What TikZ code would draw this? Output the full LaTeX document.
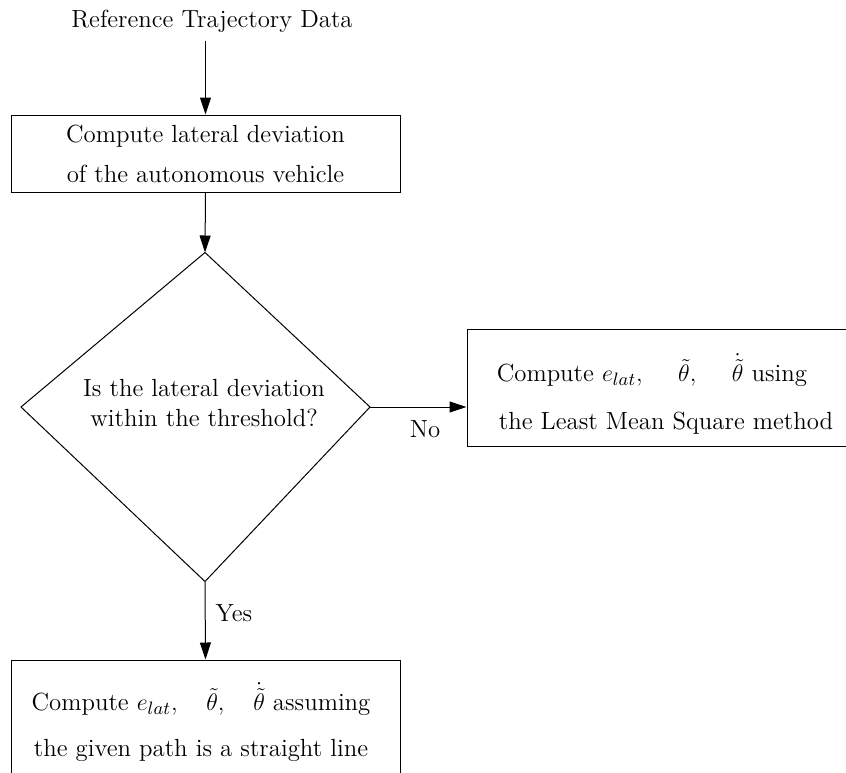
\documentclass[tikz,border=0pt]{standalone}
\usetikzlibrary{arrows.meta}
\begin{document}
\begin{tikzpicture}[x=0.5pt,y=-0.5pt,
  every node/.style={font=\fontsize{12.4}{14.4}\selectfont},
  box/.style={draw,line width=0.5pt,rectangle,inner sep=0pt,align=center},
  conn/.style={draw,line width=0.5pt,-{Triangle[length=8.5pt,width=5.5pt]}},
  lbl/.style={inner sep=0pt}]
\useasboundingbox (0,0) rectangle (846,772);
\clip (0,0) rectangle (846,772);
\node[lbl] (title) at (212,21) {Reference Trajectory Data};
\node[box,minimum width=194.5pt,minimum height=38.5pt] (b1) at (205.5,153.5)
  {Compute lateral deviation\\[5.5pt] of the autonomous vehicle};
\coordinate (dtop) at (205,252.5);
\coordinate (dbot) at (205,581.5);
\coordinate (dleft) at (21,407);
\coordinate (dright) at (370,407);
\draw[line width=0.5pt] (dtop) -- (dright) -- (dbot) -- (dleft) -- cycle;
\node[lbl,align=center] (q) at (204,403) {Is the lateral deviation\\[0.5pt] within the threshold?};
\node[box,minimum width=198pt,minimum height=58.5pt] (rb) at (665,387.5) {};
\node[lbl,align=left] (rbt) at (665,394)
  {Compute $e_{lat}, \;\quad \tilde{\theta}, \;\quad \dot{\tilde{\theta}}$ using\\[9.5pt] \hspace*{1pt}the Least Mean Square method};
\node[box,minimum width=194.5pt,minimum height=63pt] (bb) at (205.5,723) {};
\node[lbl,align=center] (bbt) at (201,722)
  {Compute $e_{lat}, \quad \tilde{\theta}, \quad \dot{\tilde{\theta}}$ assuming\\[8.5pt] the given path is a straight line};
\draw[conn] (b1.north |- title.south) ++(0,8) -- (b1.north);
\draw[conn] (b1.south) -- (dtop);
\draw[conn] (dright) -- (dright -| rb.west);
\draw[conn] (dbot) -- (bb.north);
\node[lbl] (no) at (425,429) {No};
\node[lbl] (yes) at (234,613) {Yes};
\end{tikzpicture}
\end{document}
